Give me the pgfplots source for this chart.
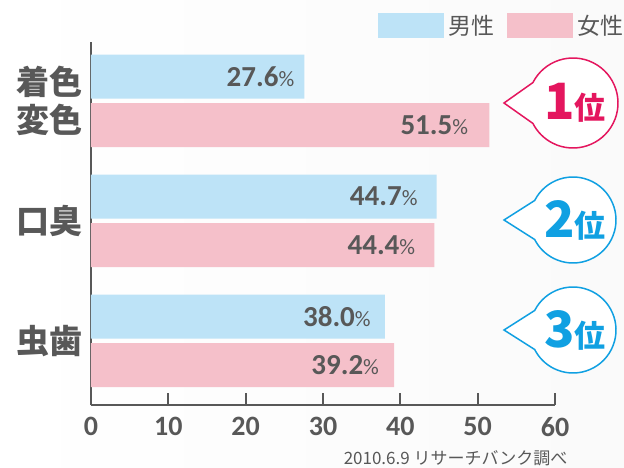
\documentclass[border=0pt]{standalone}
\usepackage{pgfplots}
\usepackage{pgfplotstable}
\pgfplotsset{compat=1.18}
\usepackage{fontspec}
\setmainfont{Noto Sans CJK JP}
\newfontfamily\numfont{Carlito}
\definecolor{txt}{RGB}{88,88,88}
\definecolor{male}{RGB}{189,227,247}
\definecolor{female}{RGB}{245,192,202}
\definecolor{rankA}{RGB}{228,22,94}
\definecolor{rankB}{RGB}{16,160,226}
\pgfplotstableread{
x y gap
27.6 0.202 10
44.7 -0.798 19
38.0 -1.798 14
}\male
\pgfplotstableread{
x y gap
51.5 -0.202 21
44.4 -1.202 19
39.2 -2.202 15
}\female
\begin{document}
\begin{tikzpicture}[x=1pt,y=1pt]
\useasboundingbox (0,0) rectangle (624,-468);
\shade[left color=white,right color=black!2] (0,0) rectangle (624,-468);
\begin{axis}[
  at={(91pt,-405pt)}, anchor=south west,
  scale only axis, width=464pt, height=363pt,
  xbar, bar width=44pt, bar shift=0pt,
  xmin=0, xmax=60, ymin=-2.535, ymax=0.49,
  xtick={0,10,...,60},
  ytick={0,-1,-2},
  yticklabels={{着色\\変色},口臭,虫歯},
  axis x line*=bottom, axis y line*=left,
  axis line style={line width=2pt, draw=txt},
  tick align=inside, major tick length=12pt,
  x tick style={line width=2pt, draw=txt},
  y tick style={draw=none},
  xticklabel style={font=\numfont\fontsize{28}{28}\selectfont\bfseries, text=txt, yshift=-9pt},
  yticklabel style={font=\fontsize{33}{38}\selectfont\bfseries, text=txt, align=center, inner sep=0pt, xshift=-8pt},
  /pgf/number format/assume math mode=true,
  clip=false,
  visualization depends on={\thisrow{gap} \as \gap},
  nodes near coords={\pgfmathprintnumber[fixed,fixed zerofill,precision=1]{\pgfplotspointmeta}{\fontsize{22}{22}\selectfont\mdseries\%}},
  every node near coord/.append style={anchor=east, inner sep=0pt, xshift=-\gap pt, font=\numfont\fontsize{29}{29}\selectfont\bfseries, text=txt},
  legend columns=2,
  legend style={at={(1.1487,1.0799)}, anchor=north east, draw=none, fill=none,
    inner sep=0pt, nodes={inner sep=0pt},
    font=\fontsize{23}{23}\selectfont, text=txt,
    /tikz/every even column/.append style={column sep=12pt}},
  legend image code/.code={\fill[#1] (0pt,-12.5pt) rectangle (66pt,12.5pt); \path (71pt,0pt);},
]
\addplot[fill=male, draw=none, bar shift=0pt, point meta=x] table[x=x,y=y] {\male};
\addplot[fill=female, draw=none, bar shift=0pt, point meta=x] table[x=x,y=y] {\female};
\legend{男性,女性}
\end{axis}
\foreach \cy/\rr/\cc/\nn in {103/45/rankA/1, 220/43/rankB/2, 330/43/rankB/3} {
  \draw[\cc, line width=1.5pt, fill=white] (573,-\cy) ++(153:\rr) arc[start angle=153, end angle=-153, radius=\rr] -- (504,-\cy) -- cycle;
  \node[text=\cc] at (575,-\cy) {{\fontsize{50}{50}\selectfont\bfseries \nn}{\fontsize{31}{31}\selectfont\bfseries 位}};
}
\node[anchor=east, font=\fontsize{17}{17}\selectfont, text=txt] at (571,-458) {2010.6.9 リサーチバンク調べ};
\end{tikzpicture}
\end{document}
